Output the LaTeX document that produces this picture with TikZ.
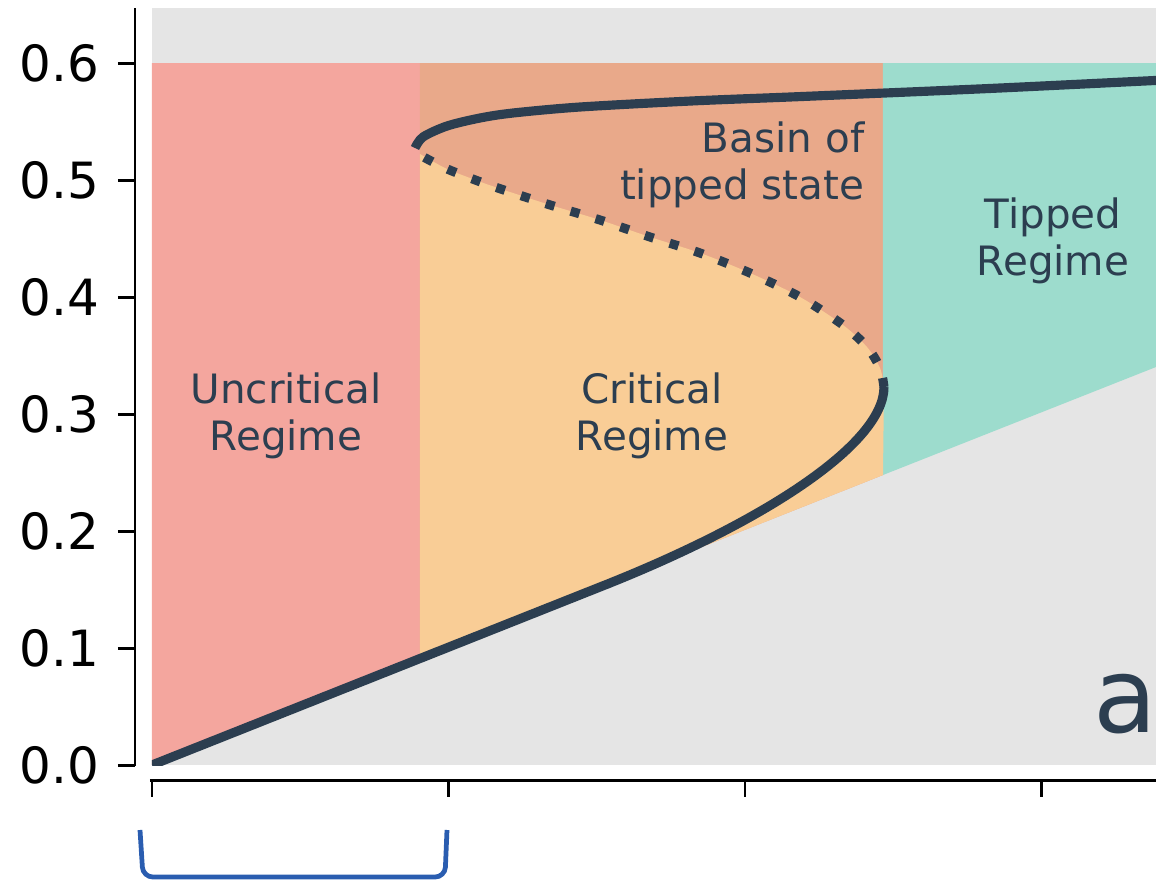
\documentclass[tikz,border=0pt]{standalone}
\usepackage{fontspec}
\setmainfont{DejaVu Sans}
\usepackage{xcolor}

\definecolor{bgGray}{HTML}{E5E5E5}
\definecolor{uncritPink}{HTML}{F4A69E}
\definecolor{basinSalmon}{HTML}{E9A98A}
\definecolor{critOrange}{HTML}{F9CD96}
\definecolor{tippedTeal}{HTML}{9DDCCD}
\definecolor{curveNavy}{HTML}{2C3E50}
\definecolor{braceBlue}{HTML}{2A5DB0}

\begin{document}
\begin{tikzpicture}[x=0.01cm, y=-0.01cm,
            regime/.style={font=\fontsize{11.5}{13.2}\selectfont, text=curveNavy, align=center, inner sep=0pt},
            ticklabel/.style={font=\fontsize{14.2}{16}\selectfont, anchor=east, inner sep=0pt},
            stable/.style={curveNavy, line width=2.6pt},
            unstable/.style={curveNavy, line width=2.6pt, dash pattern=on 2.6pt off 4.8pt},
            spine/.style={line width=0.85pt}]
            \useasboundingbox (0,0) rectangle (1156,881);

            \coordinate (O) at (152,765);
            \coordinate (T) at (1156,8);
            \coordinate (A) at (420,659);
            \coordinate (B) at (883,475);
            \coordinate (C) at (1156,367);
            \coordinate (F) at (884,387);

            % regimes
            \fill[bgGray] (O) rectangle (T);
            \fill[uncritPink] (152,63) -- (420,63) -- (A) -- (O) -- cycle;
            \fill[basinSalmon] (420,63) -- (883,63) -- (B) -- (A) -- cycle;
            \fill[tippedTeal] (883,63) -- (1156,63) -- (C) -- (B) -- cycle;
            \fill[critOrange] plot[smooth] coordinates {(420,154) (445,168) (470,178) (495,187) (547,204) (600,220) (650,237) (700,253) (750,273) (800,297) (843,325) (867,347) (880,368) (884,387)} -- (B) -- (A) -- cycle;

            \node[regime] (uncrit) at (286,416) {Uncritical\\Regime};
            \node[regime] (crit) at (652,416) {Critical\\Regime};
            \node[regime, align=right, anchor=east] (basin) at (865,165) {Basin of\\tipped state};
            \node[regime] (tipped) at (1053,241) {Tipped\\Regime};
            \node[font=\fontsize{29.6}{30}\selectfont, text=curveNavy, anchor=base east, inner sep=0pt] (panel) at (1158,732) {a};

            % branches
            \begin{scope}
                \clip (O) rectangle (T);
                \draw[stable] (152,765) -- (600,587) .. controls (760,524) and (884,445) .. (F);
                \draw[unstable] plot[smooth] coordinates {(F) (880,368) (867,347) (843,325) (800,297) (750,273) (700,253) (650,237) (600,220) (547,204) (495,187) (470,178) (445,168) (422,156) (416,150)};
                \draw[stable] plot[smooth] coordinates {(415,148) (423,137) (447,126) (480,118) (513,113) (580,107) (691,101) (790,97) (885,93) (1000,88) (1165,80)};
            \end{scope}

            % axes
            \draw[spine] (135,8) -- (135,766);
            \draw[spine] (150,780) -- (1156,780);
            \foreach \v/\lab in {0/0.0, 1/0.1, 2/0.2, 3/0.3, 4/0.4, 5/0.5, 6/0.6} {
                \draw[spine] (118,{765-117*\v}) -- (135,{765-117*\v});
                \node[ticklabel] (yl\v) at (100,{765-117*\v}) {\lab};
            }
            \foreach \x in {152,448.5,745,1041.5}
                \draw[spine] (\x,780) -- (\x,797);

            \draw[braceBlue, line width=1.35pt, rounded corners=2.8pt] (140,830) -- (143,877) -- (445,877) -- (447,830);
        \end{tikzpicture}
\end{document}
